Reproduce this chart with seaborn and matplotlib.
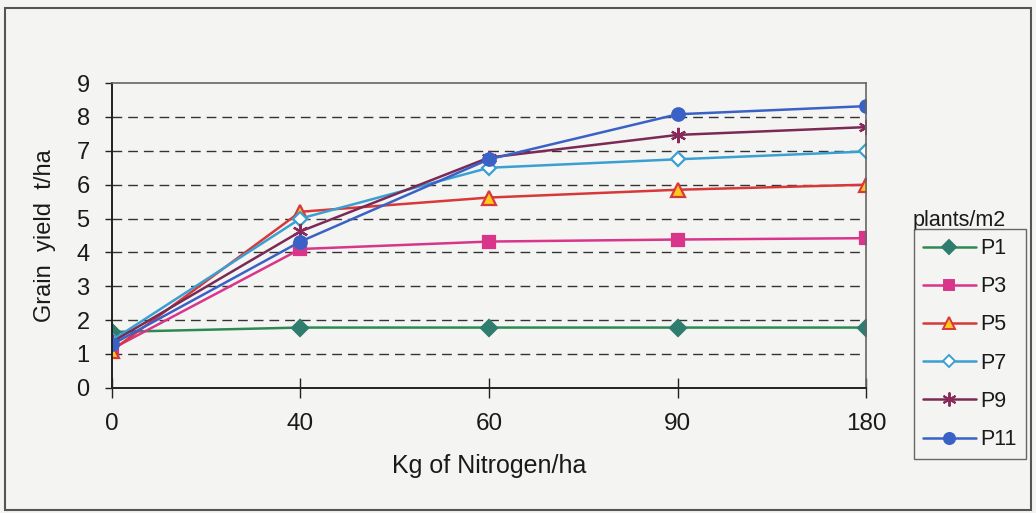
import matplotlib
matplotlib.use("Agg")
import matplotlib.pyplot as plt
from matplotlib.patches import Rectangle
from matplotlib.lines import Line2D
import seaborn as sns
import pandas as pd

# Nitrogen rates (kg/ha) and grain yield (t/ha) per plant density
nitrogen = ["0", "40", "60", "90", "180"]
p1 = [1.65, 1.78, 1.78, 1.78, 1.78]
p3 = [1.15, 4.10, 4.32, 4.38, 4.42]
p5 = [1.10, 5.20, 5.62, 5.85, 6.00]
p7 = [1.40, 5.00, 6.50, 6.75, 6.98]
p9 = [1.35, 4.62, 6.80, 7.47, 7.70]
p11 = [1.28, 4.32, 6.75, 8.08, 8.32]
series_names = ["P1", "P3", "P5", "P7", "P9", "P11"]
series_values = [p1, p3, p5, p7, p9, p11]

styles = {
    "P1": dict(color="#2e8a55", marker="D", mfc="#2e7d6e", mec="#2e7d6e", ms=8),
    "P3": dict(color="#d9358a", marker="s", mfc="#d9358a", mec="#d9358a", ms=8),
    "P5": dict(color="#d8383a", marker="^", mfc="#ffc81e", mec="#d8383a", ms=10),
    "P7": dict(color="#3aa0d2", marker="D", mfc="white", mec="#3aa0d2", ms=7),
    "P9": dict(color="#7a2a55", marker=(6, 2, 0), mfc="#8a2a5a", mec="#8a2a5a", ms=11),
    "P11": dict(color="#3a62c6", marker="o", mfc="#3a62c6", mec="#3a62c6", ms=9),
}

sns.set_theme(style="white")
plt.rcParams["font.family"] = ["Liberation Sans", "DejaVu Sans"]

bg = "#f4f4f2"
fig = plt.figure(figsize=(10.36, 5.13), dpi=100, facecolor=bg)
ax = fig.add_axes([0.108, 0.244, 0.728, 0.594])
ax.set_facecolor(bg)

df = pd.DataFrame({
    "nitrogen": nitrogen * len(series_names),
    "yield": [v for vals in series_values for v in vals],
    "series": [n for n in series_names for _ in nitrogen],
})

handles = []
for name in series_names:
    st = styles[name]
    sub = df[df["series"] == name]
    sns.lineplot(data=sub, x="nitrogen", y="yield", ax=ax, color=st["color"],
                 marker=st["marker"], markerfacecolor=st["mfc"],
                 markeredgecolor=st["mec"], markersize=st["ms"],
                 markeredgewidth=1.6, linewidth=1.8, sort=False, legend=False)
    handles.append(Line2D([], [], color=st["color"], marker=st["marker"],
                          markerfacecolor=st["mfc"], markeredgecolor=st["mec"],
                          markersize=st["ms"] - 1, markeredgewidth=1.4,
                          linewidth=1.8, label=name))

ax.set_xlim(0, len(nitrogen) - 1)
ax.set_ylim(0, 9)
ax.set_yticks(range(0, 10))
for y in range(1, 9):
    ax.axhline(y, color="#333333", lw=1.0, ls=(0, (7, 4.3)), zorder=0)

for side in ["top", "right"]:
    ax.spines[side].set_color("#666666")
    ax.spines[side].set_linewidth(1.2)
for side in ["left", "bottom"]:
    ax.spines[side].set_color("#222222")
    ax.spines[side].set_linewidth(1.4)

ax.tick_params(axis="y", direction="out", length=5, width=1, color="#222222",
               labelsize=17, pad=11, left=True, labelcolor="#1a1a1a")
ax.tick_params(axis="x", direction="inout", length=14, width=1, color="#222222",
               labelsize=17.5, pad=11, bottom=True, labelcolor="#1a1a1a")

ax.set_xlabel("Kg of Nitrogen/ha", fontsize=18, labelpad=14, color="#1a1a1a")
ax.set_ylabel("Grain  yield  t/ha", fontsize=17, labelpad=15, color="#1a1a1a")

leg = fig.legend(handles=handles, loc="upper left",
                 bbox_to_anchor=(914 / 1036, 1 - 229 / 513), frameon=True,
                 fancybox=False, fontsize=15.5, handlelength=2.45,
                 handletextpad=0.22, labelspacing=0.8, borderpad=0.42,
                 borderaxespad=0)
leg.get_frame().set_edgecolor("#444444")
leg.get_frame().set_facecolor(bg)
leg.get_frame().set_linewidth(1.0)
for t in leg.get_texts():
    t.set_color("#1a1a1a")
fig.text(913 / 1036, 1 - 226 / 513, "plants/m2", fontsize=15.5, ha="left",
         va="baseline", color="#1a1a1a")

fig.patches.append(Rectangle((0.005, 0.006), 0.99, 0.978, transform=fig.transFigure,
                             fill=False, edgecolor="#555555", lw=1.5))

fig.savefig("out.png", dpi=100, facecolor=bg)
